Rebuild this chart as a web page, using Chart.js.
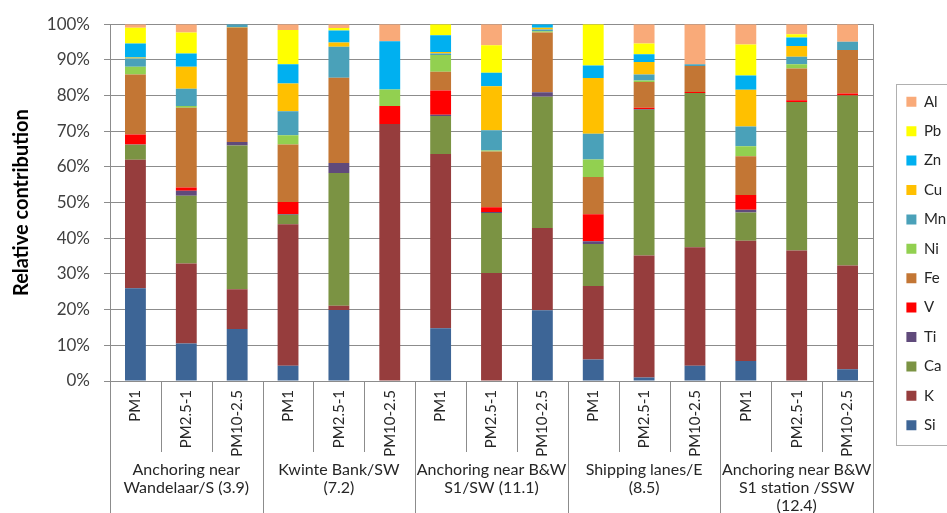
<!DOCTYPE html>
<html>
<head>
<meta charset="utf-8">
<script src="https://cdn.jsdelivr.net/npm/chart.js@4"></script>
<style>
  html, body { margin: 0; padding: 0; background: #fff; }
  #wrap { width: 947px; height: 513px; position: relative; }
</style>
</head>
<body>
<div id="wrap"><canvas id="chart"></canvas></div>
<script>
// bar labels (3 size fractions per site)
const labels = ['PM1', 'PM2.5-1', 'PM10-2.5', 'PM1', 'PM2.5-1', 'PM10-2.5', 'PM1', 'PM2.5-1', 'PM10-2.5',
  'PM1', 'PM2.5-1', 'PM10-2.5', 'PM1', 'PM2.5-1', 'PM10-2.5'];
// site groups, one entry per 3 bars
const groups = [
  ['Anchoring near', 'Wandelaar/S (3.9)'],
  ['Kwinte Bank/SW', '(7.2)'],
  ['Anchoring near B&W', 'S1/SW (11.1)'],
  ['Shipping lanes/E', '(8.5)'],
  ['Anchoring near B&W', 'S1 station /SSW', '(12.4)'],
];

// relative contribution (%) per element
const si = [26, 10.5, 14.6, 4.3, 19.9, 0, 14.8, 0, 19.8, 6.0, 1.0, 4.3, 5.6, 0, 3.3];
const k  = [36, 22.4, 11.1, 39.6, 1.2, 72.0, 48.8, 30.3, 23.1, 20.6, 34.2, 33.2, 33.7, 36.6, 29.1];
const ca = [4.2, 19.0, 40.3, 2.7, 37.2, 0, 10.7, 16.8, 36.8, 11.8, 40.8, 43.2, 7.9, 41.6, 47.6];
const ti = [0.1, 1.4, 1.0, 0.2, 2.8, 0, 0.3, 0.3, 1.2, 0.8, 0.2, 0, 0.8, 0, 0];
const v  = [2.8, 0.9, 0, 3.4, 0, 5.1, 6.8, 1.3, 0, 7.5, 0.4, 0.3, 4.1, 0.5, 0.6];
const fe = [16.8, 22.4, 32.1, 16.1, 23.9, 0, 5.3, 15.6, 16.8, 10.5, 7.2, 7.3, 10.9, 8.9, 12.2];
const ni = [2.2, 0.5, 0.1, 2.6, 0, 4.6, 4.7, 0.3, 0.3, 4.9, 0.4, 0, 2.8, 1.2, 0];
const mn = [2.3, 4.8, 0.7, 6.7, 8.7, 0, 0.4, 5.7, 0.5, 7.2, 1.7, 0.5, 5.5, 2.1, 2.3];
const cu = [0.3, 6.2, 0, 7.8, 1.2, 0, 0.4, 12.3, 0.5, 15.6, 3.5, 0, 10.3, 3.0, 0];
const zn = [3.9, 3.7, 0.1, 5.4, 3.3, 13.5, 4.7, 3.8, 1.0, 3.5, 2.2, 0, 4.0, 2.4, 0];
const pb = [4.4, 5.9, 0, 9.6, 0.7, 0, 3.1, 7.7, 0, 11.6, 3.0, 0, 8.7, 0.9, 0];
const al = [1.0, 2.3, 0, 1.6, 1.1, 4.8, 0, 5.9, 0, 0, 5.4, 11.2, 5.7, 2.8, 4.9];

const yTicks = [0, 10, 20, 30, 40, 50, 60, 70, 80, 90, 100];

const series = [
  ['Si', si, '#3d6596'],
  ['K', k, '#963d3d'],
  ['Ca', ca, '#7b9343'],
  ['Ti', ti, '#604a7b'],
  ['V', v, '#ff0000'],
  ['Fe', fe, '#c37634'],
  ['Ni', ni, '#92d050'],
  ['Mn', mn, '#4aa1b9'],
  ['Cu', cu, '#ffc000'],
  ['Zn', zn, '#00b0f0'],
  ['Pb', pb, '#ffff00'],
  ['Al', al, '#f9aa79'],
];

const lineCol = '#8c8c8c';
Chart.defaults.font.family = "Lato, 'Liberation Sans', sans-serif";

// category separators, outer frame and site names under the axis
const groupAxis = {
  id: 'groupAxis',
  afterDraw(chart) {
    const ctx = chart.ctx;
    const x = chart.scales.x;
    const area = chart.chartArea;
    const half = (x.getPixelForValue(1) - x.getPixelForValue(0)) / 2;
    const edges = labels.map((l, i) => x.getPixelForValue(i) - half);
    edges.push(x.getPixelForValue(labels.length - 1) + half);
    ctx.save();
    ctx.strokeStyle = lineCol;
    ctx.lineWidth = 1;
    edges.forEach((px, i) => {
      const xx = Math.round(px) + 0.5;
      ctx.beginPath();
      if (i === edges.length - 1) {
        ctx.moveTo(xx, area.top);
      } else {
        ctx.moveTo(xx, area.bottom);
      }
      ctx.lineTo(xx, i % 3 === 0 ? chart.height : 452);
      ctx.stroke();
    });
    ctx.fillStyle = '#262626';
    ctx.font = "16px Lato, 'Liberation Sans', sans-serif";
    ctx.textAlign = 'center';
    ctx.textBaseline = 'middle';
    groups.forEach((lines, g) => {
      const cx = (edges[g * 3] + edges[g * 3 + 3]) / 2;
      lines.forEach((t, j) => ctx.fillText(t, cx, 470 + j * 18));
    });

    // legend frame
    const lg = chart.legend;
    const boxes = lg.legendHitBoxes;
    if (boxes && boxes.length) {
      const top = Math.round(boxes[0].top - 10) + 0.5;
      const bottom = Math.round(boxes[boxes.length - 1].top + boxes[boxes.length - 1].height + 12) + 0.5;
      const left = Math.round(lg.left + 4) + 0.5;
      ctx.strokeStyle = '#b0b0b0';
      ctx.strokeRect(left, top, chart.width - left + 5, bottom - top);
    }
    ctx.restore();
  }
};

new Chart(document.getElementById('chart'), {
  type: 'bar',
  data: {
    labels: labels,
    datasets: series.map(s => ({
      label: s[0],
      data: s[1],
      backgroundColor: s[2],
      borderWidth: 0,
      categoryPercentage: 1,
      barPercentage: 0.41,
    })),
  },
  options: {
    responsive: true,
    maintainAspectRatio: false,
    animation: false,
    layout: { padding: { top: 22.5, bottom: 8.5, left: 0, right: 0 } },
    plugins: {
      tooltip: { enabled: false },
      legend: {
        position: 'right',
        reverse: true,
        maxWidth: 55,
        labels: {
          boxWidth: 10,
          boxHeight: 10,
          padding: 14.4,
          color: '#262626',
          font: { size: 15 },
        },
      },
    },
    scales: {
      x: {
        stacked: true,
        grid: { display: false, drawTicks: false },
        border: { display: true, color: lineCol },
        ticks: {
          autoSkip: false,
          minRotation: 90,
          maxRotation: 90,
          padding: 9,
          color: '#262626',
          font: { size: 15 },
        },
        afterFit: s => { s.height = 123.5; },
      },
      y: {
        stacked: true,
        min: 0,
        max: 100,
        afterBuildTicks: s => { s.ticks = yTicks.map(t => ({ value: t })); },
        grid: { color: lineCol, tickLength: 6 },
        border: { color: lineCol },
        ticks: {
          padding: 14,
          color: '#404040',
          font: { size: 17 },
          callback: val => val + '%',
        },
        title: {
          display: true,
          text: 'Relative contribution',
          color: '#000',
          font: { size: 20, weight: 'bold' },
          padding: { top: 10, bottom: 0 },
        },
        afterFit: s => { s.width = 110; },
      },
      // spacer between plot and legend
      gap: {
        type: 'linear',
        position: 'right',
        display: true,
        grid: { display: false },
        border: { display: false },
        ticks: { display: false },
        afterFit: s => { s.width = 19; },
      },
    },
  },
  plugins: [groupAxis],
});
</script>
</body>
</html>
